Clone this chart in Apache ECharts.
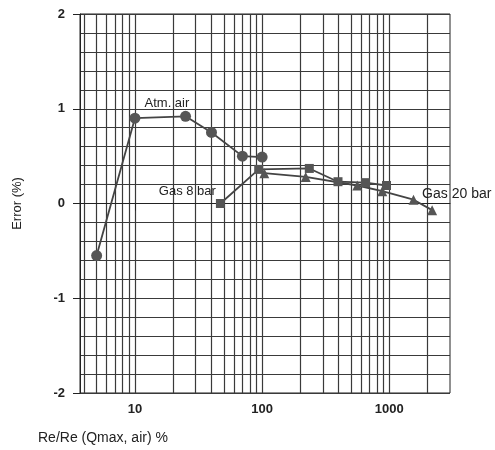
<!DOCTYPE html>
<html>
<head>
<meta charset="utf-8">
<script src="https://cdn.jsdelivr.net/npm/echarts@6/dist/echarts.min.js"></script>
<style>
  html, body { margin: 0; padding: 0; background: #fff; }
  #chart { width: 495px; height: 450px; }
</style>
</head>
<body>
<div id="chart"></div>
<script>
// readings: [Re/Re %, error %]
var atmAir = [[5, -0.55], [10, 0.9], [25, 0.92], [40, 0.75], [70, 0.5], [100, 0.49]];
var gas8 = [[47, 0], [94, 0.36], [235, 0.37], [395, 0.23], [650, 0.22], [950, 0.19]];
var gas20 = [[104, 0.32], [220, 0.28], [560, 0.19], [880, 0.13], [1550, 0.04], [2170, -0.07]];

var seriesNames = ['Atm. air', 'Gas 8 bar', 'Gas 20 bar'];
var xMajor = [10, 100, 1000];
var xGrid = [4, 5, 6, 7, 8, 9, 10, 20, 30, 40, 50, 60, 70, 80, 90,
             100, 200, 300, 400, 500, 600, 700, 800, 900, 1000, 2000];
var yTicks = [-2, -1, 0, 1, 2];

var ink = '#222';
var gridCol = '#3a3a3a';
var font = 'Liberation Sans';

/**
 * 只在某一个数据点上显示系列名
 */
function nameOn(idx, name) {
    return function(p) {
        return p.dataIndex === idx ? name : '';
    };
}

function makeSeries(data, name, symbol, size, labelIdx, label) {
    return {
        type: 'line',
        name: name,
        data: data,
        symbol: symbol,
        symbolSize: size,
        itemStyle: { color: '#555' },
        lineStyle: { color: '#444', width: 1.8 },
        label: Object.assign({
            show: true,
            formatter: nameOn(labelIdx, name),
            color: '#222',
            fontFamily: font,
            fontSize: 13
        }, label),
        z: 5
    };
}

var chart = echarts.init(document.getElementById('chart'), null, { renderer: 'canvas' });
chart.setOption({
    animation: false,
    backgroundColor: '#fff',
    title: {
        text: 'Re/Re (Qmax, air) %',
        left: 38,
        top: 431,
        padding: 0,
        textStyle: { fontFamily: font, fontSize: 14, fontWeight: 'normal', color: '#222' }
    },
    grid: {
        left: 80, right: 45, top: 14, bottom: 57,
        show: true, borderColor: ink, borderWidth: 1
    },
    xAxis: [{
        type: 'log',
        logBase: 10,
        min: 3.7,
        max: 3000,
        position: 'bottom',
        axisLine: { lineStyle: { color: ink, width: 1 } },
        axisTick: { customValues: xMajor, length: 7, lineStyle: { color: ink } },
        axisLabel: {
            customValues: xMajor,
            formatter: function(v) { return String(Math.round(v)); },
            margin: 10,
            color: '#222', fontFamily: font, fontSize: 13, fontWeight: 'bold'
        },
        splitLine: { show: false }
    }, {
        // 只用来画对数网格线 (4..9, 20..90, 200..900, 2000)
        type: 'log',
        logBase: 10,
        min: 3.7,
        max: 3000,
        position: 'top',
        axisLine: { show: false },
        axisTick: { show: false, customValues: xGrid },
        axisLabel: { show: false, customValues: xGrid },
        splitLine: { show: true, lineStyle: { color: gridCol, width: 1.2 } }
    }],
    yAxis: {
        type: 'value',
        min: -2,
        max: 2,
        interval: 1,
        name: 'Error (%)',
        nameLocation: 'middle',
        nameGap: 56,
        nameTextStyle: { fontFamily: font, fontSize: 13, color: '#222' },
        axisLine: { show: true, lineStyle: { color: ink, width: 1 } },
        axisTick: { show: true, length: 7, lineStyle: { color: ink } },
        axisLabel: {
            customValues: yTicks,
            margin: 15,
            color: '#222', fontFamily: font, fontSize: 13, fontWeight: 'bold'
        },
        splitLine: { show: true, lineStyle: { color: gridCol, width: 1.2 } },
        minorTick: { show: false, splitNumber: 5 },
        minorSplitLine: { show: true, lineStyle: { color: gridCol, width: 1.2 } }
    },
    series: [
        makeSeries(atmAir, seriesNames[0], 'circle', 11, 1,
            { position: 'top', offset: [32, 2] }),
        makeSeries(gas8, seriesNames[1], 'rect', 9, 0,
            { position: 'left', offset: [5, -12] }),
        makeSeries(gas20, seriesNames[2], 'triangle', 10, gas20.length - 1,
            { position: 'right', offset: [-20, -16], fontSize: 14 })
    ]
});
</script>
</body>
</html>
